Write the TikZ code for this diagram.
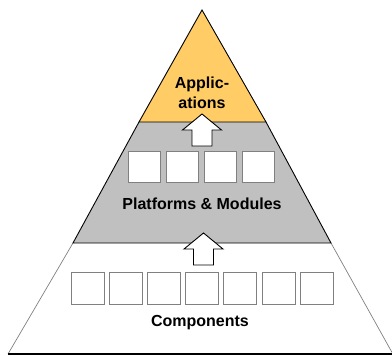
\documentclass[tikz,border=0pt]{standalone}
\usepackage{fontspec}
\setmainfont{Liberation Sans}
\definecolor{appcol}{HTML}{FFCC66}
\definecolor{platcol}{HTML}{C0C0C0}

\begin{document}
\begin{tikzpicture}[x=1pt, y=-1pt, line join=miter,
    cell/.style={draw=gray, fill=white, line width=0.9pt, minimum width=33pt, minimum height=32pt, inner sep=0pt},
    label/.style={font=\bfseries\fontsize{16}{19.5}\selectfont, align=center},
    uparrow/.pic={\draw[fill=white, line width=0.9pt] (0,0) -- (19.5,16) -- (10,16) -- (10,32)
        -- (-10,32) -- (-10,16) -- (-19.5,16) -- cycle;}]
    \useasboundingbox (0,0) rectangle (392,356);

    % layers of the pyramid
    \draw[gray, line width=0.7pt] (73,243) -- (8,354);
    \draw[gray, line width=0.7pt] (331,243) -- (394,356);
    \draw[line width=1.4pt] (8,354) -- (392,354);
    \draw[fill=platcol, line width=0.9pt] (139,122) -- (73,243) -- (331,243) -- (266,122);
    \draw[fill=appcol, line width=0.9pt] (202,10) -- (139,122) -- (266,122) -- cycle;

    \node[label] (apps) at (202,93) {Applic-\\ations};
    \node[label] (plat) at (202,204) {Platforms \& Modules};
    \node[label] (comp) at (200,323) {Components};

    % boxes
    \foreach \i in {1,...,4}
        \node[cell, minimum width=32pt, minimum height=31pt] (p\i) at (105.7+38.3*\i,166.5) {};
    \foreach \i in {1,...,7}
        \node[cell] (c\i) at (49.3+38.2*\i,288) {};

    % arrows
    \pic at (202,114) {uparrow};
    \pic at (203.5,233) {uparrow};
\end{tikzpicture}
\end{document}
